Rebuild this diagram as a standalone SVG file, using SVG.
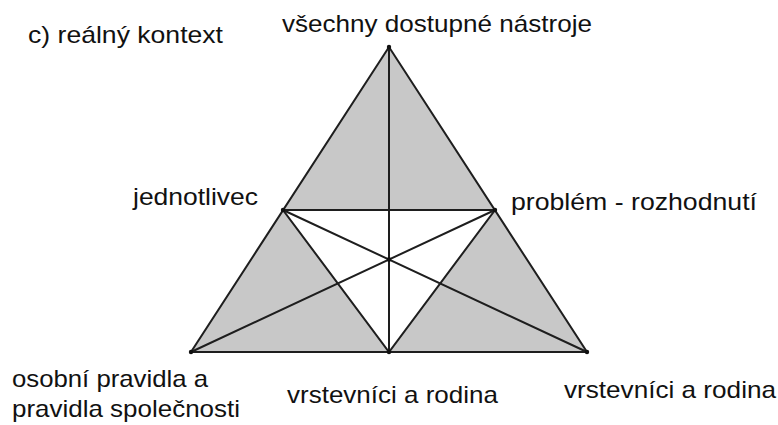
<svg xmlns="http://www.w3.org/2000/svg" width="778" height="425" viewBox="0 0 778 425">
<style>
.t{font-family:"Liberation Sans",Arial,sans-serif;font-size:24px;fill:#111}
.sh{fill:#c8c8c8;stroke:none}
.ln{stroke:#1e1e1e;stroke-width:2;fill:none;stroke-linecap:round}
.dot{fill:#111}
</style>
<rect width="778" height="425" fill="#fff"/>
<g id="shading">
<polygon class="sh" points="389,47 283,210 495,210"/>
<polygon class="sh" points="191,352 283,210 389,352"/>
<polygon class="sh" points="587,352 495,210 389,352"/>
</g>
<g id="connectors">
<polygon class="ln" points="389,47 191,352 587,352"/>
<polygon class="ln" points="283,210 495,210 389,352"/>
<line class="ln" x1="389" y1="47" x2="389" y2="352"/>
<line class="ln" x1="191" y1="352" x2="495" y2="210"/>
<line class="ln" x1="587" y1="352" x2="283" y2="210"/>
</g>
<g id="dots">
<circle class="dot" cx="389" cy="47" r="2.2"/>
<circle class="dot" cx="191" cy="352" r="2.2"/>
<circle class="dot" cx="587" cy="352" r="2.2"/>
<circle class="dot" cx="283" cy="210" r="2.2"/>
<circle class="dot" cx="495" cy="210" r="2.2"/>
<circle class="dot" cx="389" cy="352" r="2.2"/>
<circle class="dot" cx="389" cy="259.5" r="2.2"/>
</g>
<g id="title"><text class="t" x="28" y="43" textLength="195" lengthAdjust="spacingAndGlyphs">c) reálný kontext</text></g>
<g id="node-top"><text class="t" x="282" y="32" textLength="310" lengthAdjust="spacingAndGlyphs">všechny dostupné nástroje</text></g>
<g id="node-left-mid"><text class="t" x="133" y="205" textLength="125" lengthAdjust="spacingAndGlyphs">jednotlivec</text></g>
<g id="node-right-mid"><text class="t" x="511" y="210" textLength="246" lengthAdjust="spacingAndGlyphs">problém - rozhodnutí</text></g>
<g id="node-bottom-left">
<text class="t" x="12" y="387" textLength="196" lengthAdjust="spacingAndGlyphs">osobní pravidla a</text>
<text class="t" x="12" y="417" textLength="228" lengthAdjust="spacingAndGlyphs">pravidla společnosti</text>
</g>
<g id="node-bottom-mid"><text class="t" x="287" y="403" textLength="211" lengthAdjust="spacingAndGlyphs">vrstevníci a rodina</text></g>
<g id="node-bottom-right"><text class="t" x="564" y="398" textLength="212" lengthAdjust="spacingAndGlyphs">vrstevníci a rodina</text></g>
</svg>
